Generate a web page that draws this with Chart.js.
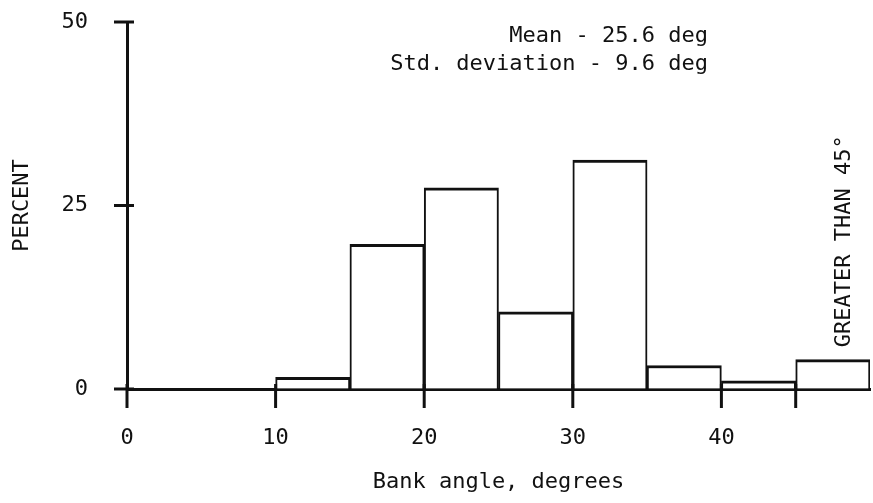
<!DOCTYPE html>
<html>
<head>
<meta charset="utf-8">
<script src="https://cdn.jsdelivr.net/npm/chart.js@4"></script>
<style>
  html, body { margin: 0; padding: 0; background: #fff; }
  #wrap { width: 873px; height: 503px; }
</style>
</head>
<body>
<div id="wrap"><canvas id="histChart"></canvas></div>
<script>
// bin edges in degrees, percent of cases per 5 degree bin
const binStarts = [0, 5, 10, 15, 20, 25, 30, 35, 40, 45];
const binWidth = 5;
const percents = [0, 0, 1.6, 19.7, 27.4, 10.5, 31.2, 3.2, 1.1, 4.0];
const xTicks = [0, 10, 20, 30, 40, 45];
const xLabels = ['0', '10', '20', '30', '40', ''];
const yTicks = [0, 25, 50];

const FONT = '"DejaVu Sans Mono", "Liberation Mono", monospace';
const INK = '#111';

const points = binStarts.map((s, i) => ({ x: s + binWidth / 2, y: percents[i] }));

// cross-shaped tick marks and the text notes
const extras = {
    id: 'extras',
    afterDraw(chart) {
        const c = chart.ctx;
        const xs = chart.scales.x, ys = chart.scales.y;
        const base = ys.getPixelForValue(0);
        const left = xs.getPixelForValue(0);
        c.save();
        c.strokeStyle = INK;
        c.lineWidth = 3;
        yTicks.forEach(v => {
            const py = ys.getPixelForValue(v);
            c.beginPath();
            c.moveTo(left - 13, py);
            c.lineTo(left + 7, py);
            c.stroke();
        });
        xTicks.forEach(v => {
            const px = xs.getPixelForValue(v);
            c.beginPath();
            c.moveTo(px, base - 5);
            c.lineTo(px, base + 19);
            c.stroke();
        });
        c.fillStyle = INK;
        c.font = '22px ' + FONT;
        c.textAlign = 'right';
        c.textBaseline = 'middle';
        c.fillText('Mean - 25.6 deg', xs.getPixelForValue(39.1), ys.getPixelForValue(48));
        c.fillText('Std. deviation - 9.6 deg', xs.getPixelForValue(39.1), ys.getPixelForValue(44.3));
        c.translate(xs.getPixelForValue(48.3), ys.getPixelForValue(5.7));
        c.rotate(-Math.PI / 2);
        c.textAlign = 'left';
        c.fillText('GREATER THAN 45\u00b0', 0, 0);
        c.restore();
    }
};

const ctx = document.getElementById('histChart').getContext('2d');

const histChart = new Chart(ctx, {
    type: 'bar',
    data: {
        datasets: [{
            label: 'Percent',
            data: points,
            backgroundColor: '#fff',
            borderColor: INK,
            borderWidth: { top: 3, left: 2, right: 2, bottom: 0 },
            borderSkipped: 'bottom',
            barPercentage: 1,
            categoryPercentage: 1,
        }]
    },
    options: {
        responsive: true,
        maintainAspectRatio: false,
        animation: false,
        layout: { padding: { top: 22, right: 3, left: 0, bottom: 0 } },
        plugins: {
            legend: { display: false },
            tooltip: { enabled: false }
        },
        scales: {
            x: {
                type: 'linear',
                offset: false,
                min: 0,
                max: 50,
                afterBuildTicks: scale => {
                    scale.ticks = xTicks.map(v => ({ value: v }));
                },
                afterFit: scale => { scale.height = 114; },
                grid: { display: false, drawTicks: false, offset: false },
                border: { display: true, color: INK, width: 3 },
                ticks: {
                    autoSkip: false,
                    maxRotation: 0,
                    padding: 36,
                    color: INK,
                    font: { family: FONT, size: 22 },
                    callback: (value, i) => xLabels[i]
                },
                title: {
                    display: true,
                    text: 'Bank angle, degrees',
                    color: INK,
                    font: { family: FONT, size: 22 },
                    padding: { top: 0, bottom: 8 }
                }
            },
            y: {
                min: 0,
                max: 50,
                afterBuildTicks: scale => {
                    scale.ticks = yTicks.map(v => ({ value: v }));
                },
                afterFit: scale => { scale.width = 127; },
                // invisible tick marks only push the labels away from the axis
                grid: {
                    display: true,
                    drawOnChartArea: false,
                    drawTicks: true,
                    tickLength: 35,
                    tickColor: 'rgba(0,0,0,0)'
                },
                border: { display: true, color: INK, width: 3 },
                ticks: {
                    padding: 4,
                    color: INK,
                    font: { family: FONT, size: 22 }
                },
                title: {
                    display: true,
                    text: 'PERCENT',
                    color: INK,
                    font: { family: FONT, size: 22 },
                    padding: { top: 9, bottom: 0 }
                }
            }
        }
    },
    plugins: [extras]
});
</script>
</body>
</html>
